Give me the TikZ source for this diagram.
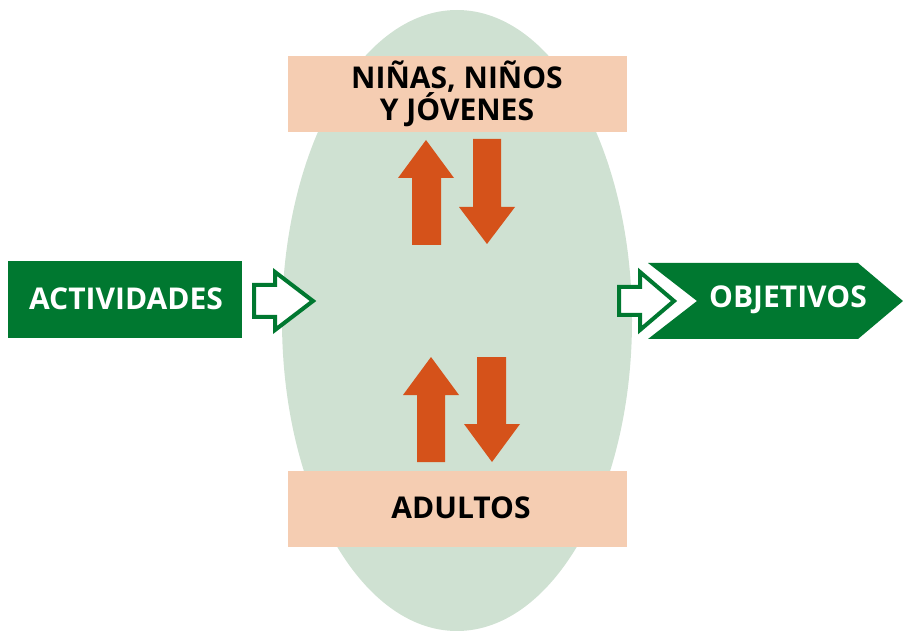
\documentclass[tikz,border=0pt]{standalone}
\usepackage{fontspec}
\setmainfont{Open Sans}
\definecolor{dgreen}{RGB}{0,120,48}
\definecolor{pale}{RGB}{207,225,210}
\definecolor{peach}{RGB}{245,205,178}
\definecolor{rust}{RGB}{213,82,26}
\tikzset{
  lbl/.style={font=\bfseries\fontsize{30}{32}\selectfont, align=center, inner sep=0pt},
  pbox/.style={fill=peach, draw=none},
  outarrow/.style={draw=dgreen, fill=white, line width=4pt, miter limit=10},
  blk/.style={fill=rust, draw=none}
}
\begin{document}
\begin{tikzpicture}[x=1pt,y=-1pt]
\useasboundingbox (0,0) rectangle (903,631);
% ellipse
\fill[pale] (457,320.5) ellipse [x radius=175, y radius=310.5];
% peach boxes
\fill[pbox] (288,56) rectangle (627,132);
\fill[pbox] (288,471) rectangle (627,547);
\node[lbl, text=black] (kids) at (457,94) {NIÑAS, NIÑOS\\Y JÓVENES};
\node[lbl, text=black] (adults) at (461,508) {ADULTOS};
% orange arrows top
\fill[blk] (412,245) -- (412,178) -- (398,178) -- (426,140) -- (454,178) -- (441,178) -- (441,245) -- cycle;
\fill[blk] (473,139) -- (501,139) -- (501,207) -- (515,207) -- (487,244) -- (459,207) -- (473,207) -- cycle;
% orange arrows bottom
\fill[blk] (417,462) -- (417,395) -- (403,395) -- (431,357) -- (459,395) -- (445,395) -- (445,462) -- cycle;
\fill[blk] (477,357) -- (506,357) -- (506,424) -- (520,424) -- (492,462) -- (464,424) -- (477,424) -- cycle;
% actividades
\fill[dgreen] (8,261) rectangle (242,338);
\node[lbl, text=white] (act) at (126,299) {ACTIVIDADES};
% objetivos pentagon
\fill[dgreen] (648,263) -- (858,263) -- (903,301) -- (858,339) -- (648,339) -- (697,301) -- cycle;
\node[lbl, text=white] (obj) at (788,300) {OBJETIVOS};
% outline arrows
\draw[outarrow] (254,285) -- (275,285) -- (275,272) -- (313,301) -- (275,330) -- (275,317) -- (254,317) -- cycle;
\draw[outarrow] (619,287) -- (640,287) -- (640,272) -- (674,301) -- (640,330) -- (640,315) -- (619,315) -- cycle;
\end{tikzpicture}
\end{document}
